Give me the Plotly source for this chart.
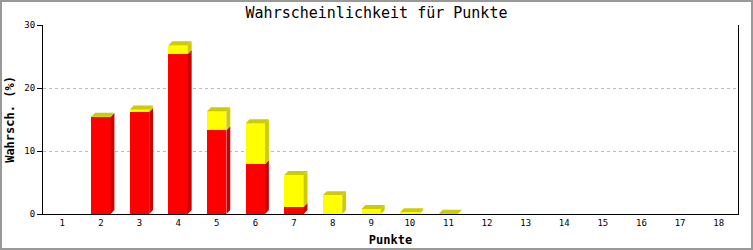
import plotly.graph_objects as go

# ---- data ----
categories = list(range(1, 19))
tick_labels = [str(c) for c in categories]
red_values = [0, 15.4, 16.2, 25.4, 13.3, 7.9, 1.1, 0, 0, 0, 0, 0, 0, 0, 0, 0, 0, 0]
yellow_values = [0, 0.05, 0.4, 1.4, 3.0, 6.5, 5.1, 3.0, 0.8, 0.3, 0.05, 0, 0, 0, 0, 0, 0, 0]

title_text = "Wahrscheinlichkeit für Punkte"
x_title = "Punkte"
y_title = "Wahrsch. (%)"

# ---- style ----
W, H = 753, 250
ML, MR, MT, MB = 43, 15, 25, 36
BAR_W = 0.5
DX = 0.1     # 3D depth, x (category units)
DY = 0.63    # 3D depth, y (value units)
RED, RED_DARK = "#ff0000", "#cc0000"
YEL, YEL_DARK = "#ffff00", "#cccc00"
MONO = "DejaVu Sans Mono"

fig = go.Figure()
fig.add_trace(go.Bar(x=categories, y=red_values, width=BAR_W, marker=dict(color=RED, line=dict(width=0)),
                     name="rot", hoverinfo="skip"))
fig.add_trace(go.Bar(x=categories, y=yellow_values, width=BAR_W, marker=dict(color=YEL, line=dict(width=0)),
                     name="gelb", hoverinfo="skip"))


def side_faces(bottoms, tops):
    xs, ys = [], []
    for c, b, t in zip(categories, bottoms, tops):
        if t - b <= 0:
            continue
        x1 = c + BAR_W / 2
        xs += [x1, x1 + DX, x1 + DX, x1, x1, None]
        ys += [b, b + DY, t + DY, t, b, None]
    return xs, ys


def top_faces(totals):
    xs, ys = [], []
    for c, t in zip(categories, totals):
        if t <= 0:
            continue
        x0, x1 = c - BAR_W / 2, c + BAR_W / 2
        xs += [x0, x0 + DX, x1 + DX, x1, x0, None]
        ys += [t, t + DY, t + DY, t, t, None]
    return xs, ys


zeros = [0] * len(categories)
totals = [r + y for r, y in zip(red_values, yellow_values)]

for (xs, ys), col in [
    (side_faces(zeros, red_values), RED_DARK),
    (side_faces(red_values, totals), YEL_DARK),
    (top_faces(totals), YEL_DARK),
]:
    fig.add_trace(go.Scatter(x=xs, y=ys, mode="lines", fill="toself", fillcolor=col,
                             line=dict(width=0, color=col), hoverinfo="skip", showlegend=False))

pw = W - ML - MR
ph = H - MT - MB
fig.add_shape(type="rect", xref="paper", yref="paper",
              x0=-ML / pw + 1 / pw, x1=1 + MR / pw - 1 / pw,
              y0=-MB / ph + 1 / ph, y1=1 + MT / ph - 1 / ph,
              line=dict(color="#999999", width=2), layer="above")

fig.update_layout(
    width=W, height=H,
    margin=dict(l=ML, r=MR, t=MT, b=MB, autoexpand=False),
    barmode="stack",
    showlegend=False,
    paper_bgcolor="white", plot_bgcolor="white",
    title=dict(text=title_text, x=0.5, xanchor="center", y=1 - 13 / H, yanchor="middle",
               font=dict(family=MONO, size=15, color="black")),
    font=dict(family=MONO, color="black"),
)
fig.update_xaxes(
    range=[0.5, 18.5], tickmode="array", tickvals=categories, ticktext=tick_labels,
    showgrid=False, showline=True, linecolor="black", linewidth=1, ticks="",
    tickfont=dict(family=MONO, size=9, color="black"), zeroline=False, automargin=False,
    title=dict(text="<b>" + x_title + "</b>", font=dict(family=MONO, size=12, color="black"), standoff=8),
)
fig.update_yaxes(
    range=[0, 30], tickvals=[0, 10, 20, 30], showgrid=True, gridcolor="#bbbbbb", griddash="3px,3px",
    gridwidth=1,
    showline=True, linecolor="black", linewidth=1, mirror=True, ticks="outside", ticklen=5, tickcolor="black",
    tickfont=dict(family=MONO, size=9, color="black"), zeroline=False, automargin=False,
    title=dict(text="<b>" + y_title + "</b>", font=dict(family=MONO, size=12, color="black"), standoff=7),
)

fig.write_html("out.html")
